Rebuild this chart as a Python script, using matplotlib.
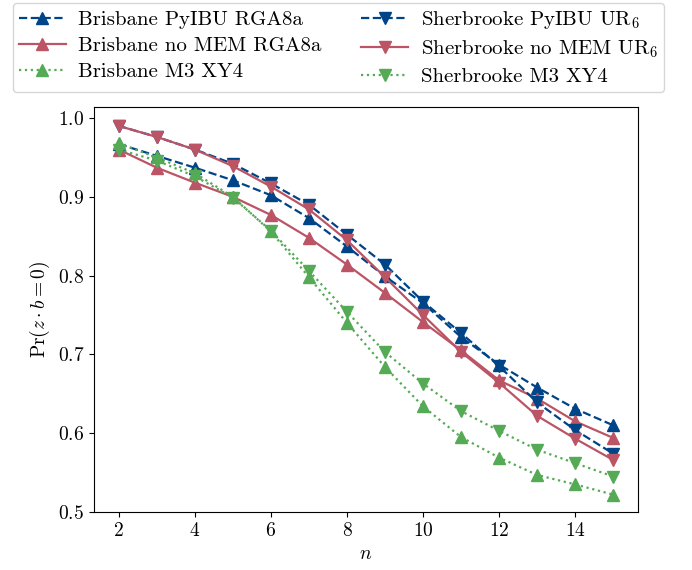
import matplotlib
matplotlib.use("Agg")
import matplotlib.pyplot as plt

plt.rcParams['font.family'] = 'serif'
plt.rcParams['font.serif'] = ['cmr10']
plt.rcParams['mathtext.fontset'] = 'cm'
plt.rcParams['axes.formatter.use_mathtext'] = True
plt.rcParams['axes.unicode_minus'] = False

n = list(range(2, 16))

bris_pyibu = [0.967, 0.952, 0.937, 0.921, 0.902, 0.873, 0.837, 0.799, 0.765, 0.722, 0.687, 0.658, 0.631, 0.610]
bris_nomem = [0.960, 0.937, 0.918, 0.900, 0.877, 0.848, 0.814, 0.778, 0.741, 0.705, 0.667, 0.644, 0.615, 0.594]
bris_m3 = [0.968, 0.950, 0.930, 0.900, 0.856, 0.798, 0.740, 0.684, 0.634, 0.595, 0.569, 0.547, 0.535, 0.522]
sher_pyibu = [0.990, 0.976, 0.960, 0.942, 0.917, 0.890, 0.852, 0.814, 0.767, 0.727, 0.685, 0.639, 0.604, 0.574]
sher_nomem = [0.990, 0.976, 0.960, 0.939, 0.913, 0.884, 0.845, 0.798, 0.750, 0.703, 0.664, 0.622, 0.593, 0.566]
sher_m3 = [0.960, 0.946, 0.926, 0.899, 0.857, 0.806, 0.754, 0.703, 0.663, 0.628, 0.603, 0.579, 0.562, 0.545]

labels = ["Brisbane PyIBU RGA8a", "Brisbane no MEM RGA8a", "Brisbane M3 XY4",
          r"Sherbrooke PyIBU UR$_6$", r"Sherbrooke no MEM UR$_6$", "Sherbrooke M3 XY4"]

blue = "#004488"
red = "#BB5566"
green = "#55AA55"

fig = plt.figure(figsize=(6.92, 5.70), dpi=100)
ax = fig.add_axes([94/692, 1 - 512/570, (638 - 94)/692, (512 - 107)/570])

ms = 8
lw = 1.6
ax.plot(n, bris_pyibu, '--', marker='^', color=blue, ms=ms, lw=lw, label=labels[0])
ax.plot(n, bris_nomem, '-', marker='^', color=red, ms=ms, lw=lw, label=labels[1])
ax.plot(n, bris_m3, ':', marker='^', color=green, ms=ms, lw=lw, label=labels[2])
ax.plot(n, sher_pyibu, '--', marker='v', color=blue, ms=ms, lw=lw, label=labels[3])
ax.plot(n, sher_nomem, '-', marker='v', color=red, ms=ms, lw=lw, label=labels[4])
ax.plot(n, sher_m3, ':', marker='v', color=green, ms=ms, lw=lw, label=labels[5])

ax.set_xlim(1.35, 15.65)
ax.set_ylim(0.5, 1.014)
ax.set_xticks([2, 4, 6, 8, 10, 12, 14])
ax.set_yticks([0.5, 0.6, 0.7, 0.8, 0.9, 1.0])
ax.tick_params(labelsize=14)
ax.set_xlabel(r"$n$", fontsize=14)
ax.set_ylabel(r"$\mathrm{Pr}(z \cdot b = 0)$", fontsize=14)

fig.legend(loc='upper center', bbox_to_anchor=(0.489, 1.0), ncol=2, fontsize=15,
           frameon=True, columnspacing=1.9, handlelength=2.25, handletextpad=0.6,
           borderaxespad=0.15, labelspacing=0.35, borderpad=0.3)

fig.savefig("out.png", dpi=100)
